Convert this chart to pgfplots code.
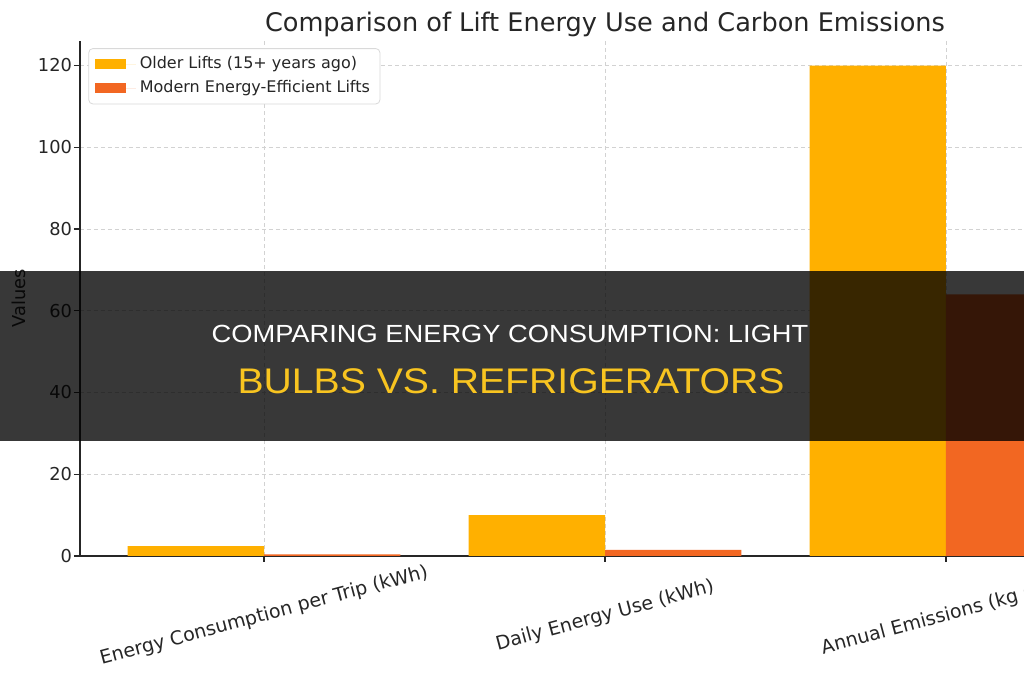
\documentclass[border=0pt]{standalone}
\usepackage{pgfplots}
\pgfplotsset{compat=1.18}
\usepackage{fontspec}
\setmainfont{DejaVu Sans}
\newfontfamily\bandfont[FakeStretch=1.1]{Liberation Sans}
\definecolor{older}{RGB}{255,176,0}
\definecolor{modern}{RGB}{242,103,34}
\definecolor{bandyellow}{RGB}{248,196,32}
\definecolor{txt}{RGB}{38,38,38}
\begin{document}
\begin{tikzpicture}
\useasboundingbox (0,0) rectangle (512pt,340pt);
\clip (0,0) rectangle (512pt,340pt);
\fill[white] (0,0) rectangle (512pt,340pt);
\begin{axis}[
  at={(40pt,62pt)}, anchor=south west,
  scale only axis, width=525pt, height=257.5pt,
  xmin=-0.54, xmax=2.54, ymin=0, ymax=126,
  axis x line*=bottom, axis y line*=left,
  axis line style={line width=0.7pt, black!85},
  tick align=outside, major tick length=3pt,
  tick style={line width=0.6pt, black!85},
  xtick={0,1,2},
  xticklabels={Energy Consumption per Trip (kWh), Daily Energy Use (kWh), Annual Emissions (kg CO2)},
  ytick={0,20,40,60,80,100,120},
  /pgf/number format/assume math mode=true,
  ticklabel style={font=\fontsize{8.9}{10}\selectfont, text=txt},
  yticklabel style={xshift=2.5pt},
  xticklabel style={yshift=-27pt, rotate=15, anchor=center, font=\fontsize{9.5}{11}\selectfont},
  grid=major,
  grid style={line width=0.4pt, gray!35, dash pattern=on 2pt off 1.5pt},
  title={Comparison of Lift Energy Use and Carbon Emissions},
  title style={at={(0.5,1)}, anchor=base, yshift=-1.5pt, font=\fontsize{12.8}{14}\selectfont, text=txt},
  ylabel={Values},
  ylabel style={at={(axis description cs:-0.0586,0.5)}, anchor=center, font=\fontsize{8.9}{10}\selectfont, text=txt},
  ybar, bar width=0.4,
  legend style={at={(0.008,0.986)}, anchor=north west, draw=gray!30, rounded corners=2pt,
    font=\fontsize{8}{9.5}\selectfont, text=txt, inner xsep=3pt, inner ysep=2pt, row sep=0.5pt},
  legend cell align=left,
  legend image code/.code={\fill[#1, sharp corners] (0pt,-2.5pt) rectangle (15.5pt,2.5pt); \path (0pt,0pt) -- (20.5pt,0pt);},
]
\addplot[fill=older, draw=none, bar shift=-0.2] coordinates {(0,2.4) (1,10) (2,120)};
\addlegendentry{Older Lifts (15+ years ago)}
\addplot[fill=modern, draw=none, bar shift=0.2] coordinates {(0,0.4) (1,1.5) (2,64)};
\addlegendentry{Modern Energy-Efficient Lifts}
\end{axis}
\fill[black,opacity=0.78] (0,119.5pt) rectangle (512pt,204.5pt);
\node[anchor=base, text=white, inner sep=0pt, font=\bandfont\fontsize{12.4}{15}\selectfont] at (255pt,168.6pt) {COMPARING ENERGY CONSUMPTION: LIGHT};
\node[anchor=base, text=bandyellow, inner sep=0pt, font=\bandfont\fontsize{17.8}{21}\selectfont] at (255.5pt,143pt) {BULBS VS. REFRIGERATORS};
\end{tikzpicture}
\end{document}
